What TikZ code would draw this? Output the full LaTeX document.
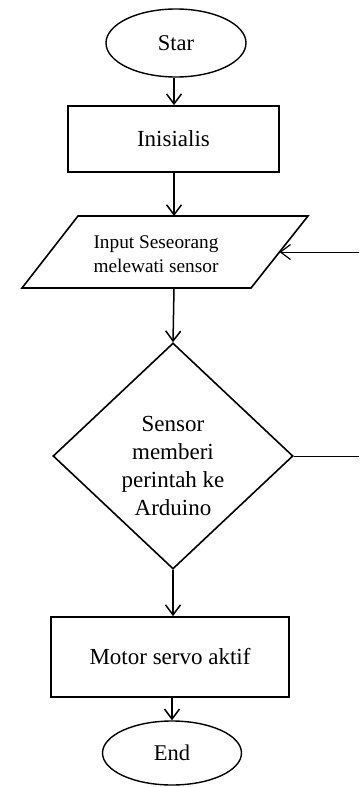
\documentclass[tikz,border=0pt]{standalone}
\usepackage{fontspec}
\setmainfont{Liberation Serif}
\usetikzlibrary{shapes.geometric,arrows.meta}
\begin{document}
\begin{tikzpicture}[x=1pt,y=-1pt,
  term/.style={ellipse, draw, line width=1.4pt, inner sep=0pt, font=\fontsize{22.5}{27}\selectfont},
  procbox/.style={rectangle, draw, line width=1.8pt, inner sep=0pt, font=\fontsize{23}{28}\selectfont},
  decision/.style={diamond, draw, line width=1.6pt, inner sep=0pt},
  txt/.style={inner sep=0pt, align=center},
  flow/.style={line width=1.5pt, -{Straight Barb[length=10pt,width=15pt,line width=1.5pt]}},
  loopflow/.style={line width=1pt, -{Straight Barb[length=10pt,width=15pt,line width=1.2pt]}},
  loopline/.style={line width=1pt}
]
\useasboundingbox (0,0) rectangle (359,787);
% nodes
\node[term, minimum width=140pt, minimum height=68pt] (star) at (176,43) {Star};
\node[procbox, minimum width=211pt, minimum height=66pt] (init) at (173.5,139) {Inisialis};
% input parallelogram
\coordinate (pbl) at (22,288);
\coordinate (ptl) at (78,216);
\coordinate (ptr) at (308,216);
\coordinate (pbr) at (251,288);
\draw[line width=1.6pt, line join=miter] (pbl) -- (ptl) -- (ptr) -- (pbr) -- cycle;
\node[txt, font=\fontsize{19.3}{24}\selectfont] (inp) at (156,254) {Input Seseorang\\melewati sensor};
\coordinate (ptop) at (174,216);
\coordinate (pbot) at (174,288);
\coordinate (pright) at (279.5,252);
% decision
\node[decision, minimum width=240pt, minimum height=226pt] (dec) at (173,456) {};
\node[txt, font=\fontsize{23}{28}\selectfont] (dectext) at (173,466) {Sensor\\memberi\\perintah ke\\Arduino};
% process
\node[procbox, minimum width=238pt, minimum height=80pt] (motor) at (170,657) {\raisebox{-5pt}{Motor servo aktif}};
\node[term, minimum width=139pt, minimum height=64pt] (endn) at (172,753) {End};
% right edge coordinates
\coordinate (edgeTop) at (359,252);
\coordinate (edgeDia) at (359,456);
% connectors
\draw[flow] (star.south -| ptop) -- (init.north -| ptop);
\draw[flow] (init.south -| ptop) -- (ptop);
\draw[flow] (pbot) -- (dec.north);
\draw[flow] (dec.south) -- (dec.south |- motor.north);
\draw[flow] (motor.south -| endn) -- (endn.north);
\draw[loopline] (dec.east) -- (edgeDia);
\draw[loopflow] (edgeTop) -- (pright);
\end{tikzpicture}
\end{document}
